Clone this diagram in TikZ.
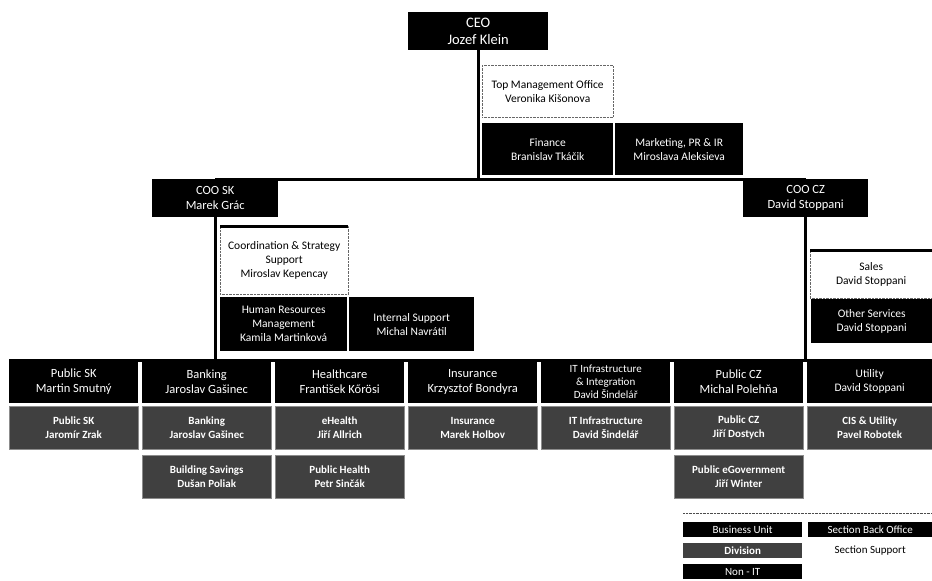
\documentclass[tikz,border=0pt]{standalone}
\usepackage{fontspec}
\setmainfont{Carlito}
\begin{document}
\begin{tikzpicture}[x=1pt, y=-1pt, font=\fontsize{12.5}{15}\selectfont,
    every node/.style={anchor=north west, inner sep=1pt, align=center},
    chief/.style={fill=black, text=white},
    backoffice/.style={fill=black, text=white, font=\fontsize{11.5}{14}\selectfont},
    support/.style={draw=black!60, densely dotted, fill=white, text=black, font=\fontsize{11.5}{14}\selectfont},
    bunit/.style={fill=black, text=white, minimum width=129pt, minimum height=43pt},
    divbox/.style={fill=black!75, draw=black!45, text=white, font=\bfseries\fontsize{11}{14}\selectfont,
      minimum width=129pt, minimum height=43pt},
    link/.style={line width=3pt},
    legbox/.style={minimum width=119pt, minimum height=15pt, inner sep=0pt, font=\fontsize{11}{12}\selectfont}]

        % Fix the page to the size of the reference
        \useasboundingbox (0,0) rectangle (932,581);

        % Top management
        \node[chief, minimum width=140pt, minimum height=38pt, font=\fontsize{14.5}{17}\selectfont]
            (ceo) at (408,12) {CEO\\Jozef Klein};
        \node[support, minimum width=131pt, minimum height=52pt] (tmo) at (482,65)
            {Top Management Office\\Veronika Kišonova};
        \node[backoffice, minimum width=131pt, minimum height=52pt] (finance) at (482,123)
            {Finance\\Branislav Tkáčik};
        \node[backoffice, minimum width=128pt, minimum height=52pt] (marketing) at (615,123)
            {Marketing, PR \& IR\\Miroslava Aleksieva};

        % COO level
        \node[chief, minimum width=126pt, minimum height=38pt] (cooSK) at (152,179) {COO SK\\Marek Grác};
        \node[chief, minimum width=125pt, minimum height=38pt] (cooCZ) at (743,179) {COO CZ\\David Stoppani};

        % Staff under COO SK
        \node[support, minimum width=128pt, minimum height=68pt] (coord) at (220,226)
            {Coordination \& Strategy\\Support\\Miroslav Kepencay};
        \node[backoffice, minimum width=127pt, minimum height=54pt] (hr) at (220,297)
            {Human Resources\\Management\\Kamila Martinková};
        \node[backoffice, minimum width=125pt, minimum height=54pt] (internal) at (349,297)
            {Internal Support\\Michal Navrátil};

        % Staff under COO CZ
        \node[support, minimum width=122pt, minimum height=48pt] (sales) at (810,250)
            {Sales\\David Stoppani};
        \node[backoffice, minimum width=121pt, minimum height=44pt] (other) at (811,299)
            {Other Services\\David Stoppani};

        % Business units
        \node[bunit] (pubSK) at (9,360) {Public SK\\Martin Smutný};
        \node[bunit] (banking) at (142,360) {Banking\\Jaroslav Gašinec};
        \node[bunit] (health) at (275,360) {Healthcare\\František Kőrösi};
        \node[bunit] (insurance) at (408,360) {Insurance\\Krzysztof Bondyra};
        \node[bunit, font=\fontsize{11}{13}\selectfont] (itinfra) at (541,360)
            {IT Infrastructure\\\& Integration\\David Šindelář};
        \node[bunit] (pubCZ) at (674,360) {Public CZ\\Michal Polehňa};
        \node[bunit, minimum width=125pt, font=\fontsize{11.5}{14}\selectfont] (utility) at (807,360)
            {Utility\\David Stoppani};

        % Divisions
        \node[divbox] (divPubSK) at (9,406) {Public SK\\Jaromír Zrak};
        \node[divbox] (divBank) at (142,406) {Banking\\Jaroslav Gašinec};
        \node[divbox] (divSave) at (142,455) {Building Savings\\Dušan Poliak};
        \node[divbox] (divEHealth) at (275,406) {eHealth\\Jiří Allrich};
        \node[divbox] (divPubHealth) at (275,455) {Public Health\\Petr Sinčák};
        \node[divbox] (divIns) at (408,406) {Insurance\\Marek Holbov};
        \node[divbox] (divIT) at (541,406) {IT Infrastructure\\David Šindelář};
        \node[divbox] (divPubCZ) at (674,406) {Public CZ\\Jiří Dostych};
        \node[divbox] (divEGov) at (674,455) {Public eGovernment\\Jiří Winter};
        \node[divbox, minimum width=125pt] (divUtil) at (807,406) {CIS \& Utility\\Pavel Robotek};

        % Reporting lines
        \draw[link] (ceo.south) -- (ceo.south |- cooSK.north);
        \draw[link] (cooSK.north) -- (cooCZ.north);
        \draw[link] (cooSK.south) -- (cooSK.south |- pubSK.north);
        \draw[link] (cooCZ.south) -- (cooCZ.south |- utility.north);
        \draw[link] (pubSK.north west) -- (utility.north east);
        \draw[link] (coord.north west) -- (coord.north east);
        \draw[link] (sales.north west) -- (sales.north east);

        % Legend
        \draw[densely dotted, black!70] (683,513) -- (932,513);
        \node[legbox, fill=black, text=white] (legBU) at (683,522) {Business Unit};
        \node[legbox, fill=black, text=white, minimum width=124pt] (legSBO) at (808,522) {Section Back Office};
        \node[legbox, fill=black!75, text=white, font=\bfseries\fontsize{11}{12}\selectfont] (legDiv) at (683,543) {Division};
        \node[legbox, minimum width=124pt] (legSS) at (808,543) {Section Support};
        \node[legbox, fill=black, text=white] (legNonIT) at (683,564) {Non - IT};

      \end{tikzpicture}
\end{document}
